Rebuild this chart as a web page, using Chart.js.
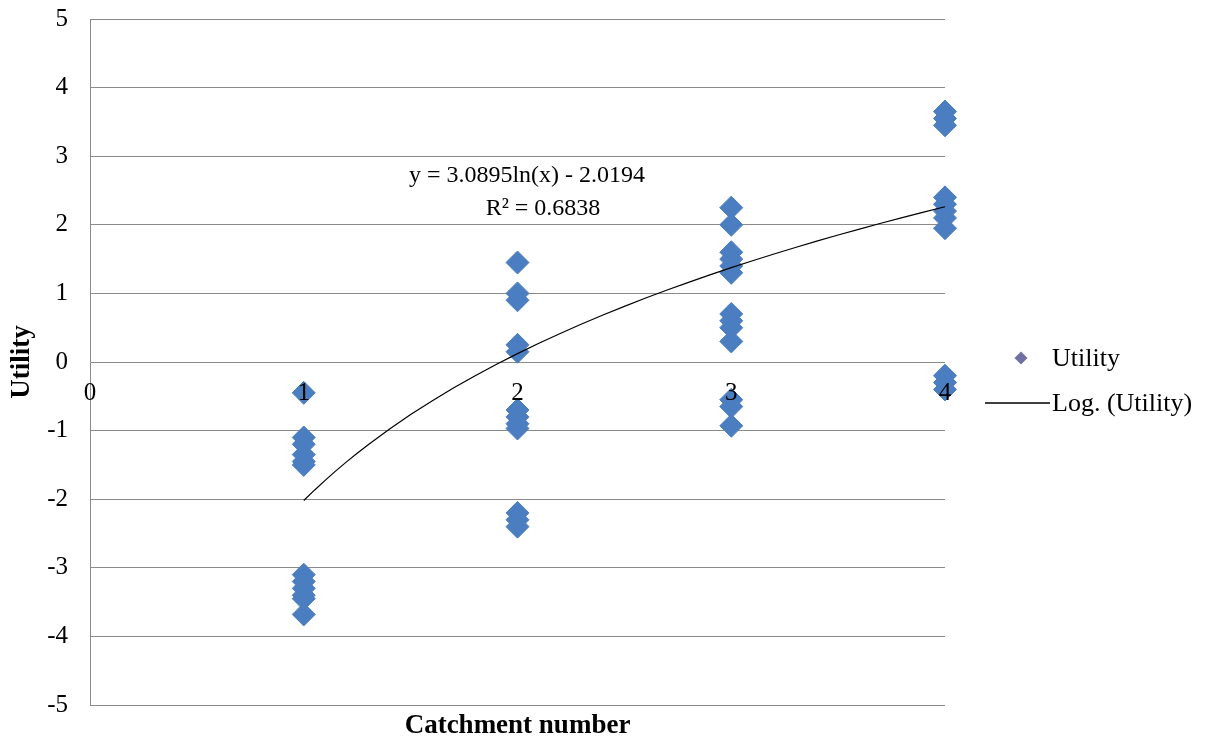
<!DOCTYPE html>
<html>
<head>
<meta charset="utf-8">
<script src="https://cdn.jsdelivr.net/npm/chart.js@4/dist/chart.umd.min.js"></script>
<style>
  html, body { margin: 0; padding: 0; background: #ffffff; }
  #wrap { width: 1211px; height: 742px; position: relative; }
</style>
</head>
<body>
<div id="wrap"><canvas id="chart" width="1211" height="742"></canvas></div>
<script>
// Utility scores observed in each catchment
const catchments = [1, 2, 3, 4];
const utilityCatchment1 = [-0.45, -1.1, -1.2, -1.35, -1.45, -1.5, -3.1, -3.2, -3.3, -3.4, -3.45, -3.68];
const utilityCatchment2 = [1.45, 1.0, 0.9, 0.25, 0.15, -0.7, -0.8, -0.9, -0.97, -2.2, -2.3, -2.4];
const utilityCatchment3 = [2.25, 2.0, 1.6, 1.5, 1.4, 1.3, 0.7, 0.6, 0.5, 0.3, -0.55, -0.65, -0.93];
const utilityCatchment4 = [3.65, 3.55, 3.45, 2.4, 2.3, 2.2, 2.1, 1.95, -0.2, -0.3, -0.4];
const utilityByCatchment = [utilityCatchment1, utilityCatchment2, utilityCatchment3, utilityCatchment4];

// Axis tick labels
const xTickLabels = ['0', '1', '2', '3', '4'];
const yTickValues = [-5, -4, -3, -2, -1, 0, 1, 2, 3, 4, 5];

// Logarithmic trend: y = a*ln(x) + b
const trendCoef = [3.0895, -2.0194];
const trendRSquared = 0.6838;
const trendX = [1, 1.05, 1.1, 1.15, 1.2, 1.25, 1.3, 1.4, 1.5, 1.6, 1.7, 1.8, 1.9, 2.0, 2.1, 2.2, 2.3,
                2.4, 2.5, 2.6, 2.7, 2.8, 2.9, 3.0, 3.1, 3.2, 3.3, 3.4, 3.5, 3.6, 3.7, 3.8, 3.9, 4.0];

const pointData = [];
catchments.forEach((c, i) => utilityByCatchment[i].forEach(v => pointData.push({ x: c, y: v })));
const trendData = trendX.map(x => ({ x: x, y: trendCoef[0] * Math.log(x) + trendCoef[1] }));

const SERIF = '"Liberation Serif", "Times New Roman", serif';
const GRID = '#8a8a8a';
const MARK = '#4a7ec1';

Chart.defaults.font.family = SERIF;
Chart.defaults.color = '#000';

// Draws x tick labels along the zero line, the trend equation and the legend
const overlay = {
  id: 'overlay',
  afterDraw(chart) {
    const { ctx, scales: { x, y } } = chart;
    ctx.save();
    ctx.fillStyle = '#000';
    ctx.font = '25px ' + SERIF;
    ctx.textAlign = 'center';
    ctx.textBaseline = 'middle';
    const y0 = y.getPixelForValue(0);
    xTickLabels.forEach((t, i) => ctx.fillText(t, x.getPixelForValue(i), y0 + 31));

    // trend equation
    ctx.font = '24px ' + SERIF;
    const a = trendCoef[0].toFixed(4);
    const b = Math.abs(trendCoef[1]).toFixed(4);
    const sign = trendCoef[1] < 0 ? '-' : '+';
    ctx.fillText('y = ' + a + 'ln(x) ' + sign + ' ' + b, 527, 176);
    ctx.fillText('R\u00B2 = ' + trendRSquared.toFixed(4), 543, 209);

    // legend
    ctx.font = '26px ' + SERIF;
    ctx.textAlign = 'left';
    ctx.fillStyle = '#7070a4';
    ctx.beginPath();
    const lx = 1021, ly = 358, r = 6.5;
    ctx.moveTo(lx - r, ly);
    ctx.lineTo(lx, ly - r);
    ctx.lineTo(lx + r, ly);
    ctx.lineTo(lx, ly + r);
    ctx.closePath();
    ctx.fill();
    ctx.fillStyle = '#000';
    ctx.fillText('Utility', 1052, 359);
    ctx.strokeStyle = '#000';
    ctx.lineWidth = 1.3;
    ctx.beginPath();
    ctx.moveTo(985, 403);
    ctx.lineTo(1050, 403);
    ctx.stroke();
    ctx.fillText('Log. (Utility)', 1052, 404);
    ctx.restore();
  }
};

new Chart(document.getElementById('chart'), {
  type: 'scatter',
  data: {
    datasets: [
      {
        label: 'Log. (Utility)',
        type: 'line',
        data: trendData,
        borderColor: '#000',
        borderWidth: 1.2,
        pointRadius: 0,
        fill: false,
        tension: 0,
        order: 0,
        clip: false
      },
      {
        label: 'Utility',
        data: pointData,
        pointStyle: 'rectRot',
        pointRadius: 11.5,
        backgroundColor: MARK,
        borderColor: MARK,
        borderWidth: 1,
        order: 1,
        clip: false
      }
    ]
  },
  options: {
    responsive: false,
    animation: false,
    devicePixelRatio: 1,
    layout: { padding: { top: 19, right: 266, left: 0, bottom: 0 } },
    plugins: { legend: { display: false }, tooltip: { enabled: false } },
    scales: {
      x: {
        type: 'linear',
        position: 'bottom',
        min: 0,
        max: 4,
        grid: { display: false },
        border: { display: false },
        ticks: { display: false },
        title: {
          display: true,
          text: 'Catchment number',
          font: { size: 27, weight: 'bold', family: SERIF },
          color: '#000',
          padding: { top: 0, bottom: 0 }
        },
        afterFit(scale) { scale.height = 37; }
      },
      y: {
        type: 'linear',
        min: -5,
        max: 5,
        afterBuildTicks(scale) { scale.ticks = yTickValues.map(v => ({ value: v })); },
        grid: { color: GRID, lineWidth: 1, drawTicks: true, tickLength: 22, tickColor: 'rgba(0,0,0,0)' },
        border: { display: true, color: GRID, width: 1 },
        ticks: { font: { size: 25, family: SERIF }, color: '#000', padding: 0 },
        title: {
          display: true,
          text: 'Utility',
          font: { size: 27, weight: 'bold', family: SERIF },
          color: '#000',
          padding: { top: 6, bottom: 0 }
        },
        afterFit(scale) { scale.width = 90; }
      }
    }
  },
  plugins: [overlay]
});
</script>
</body>
</html>
